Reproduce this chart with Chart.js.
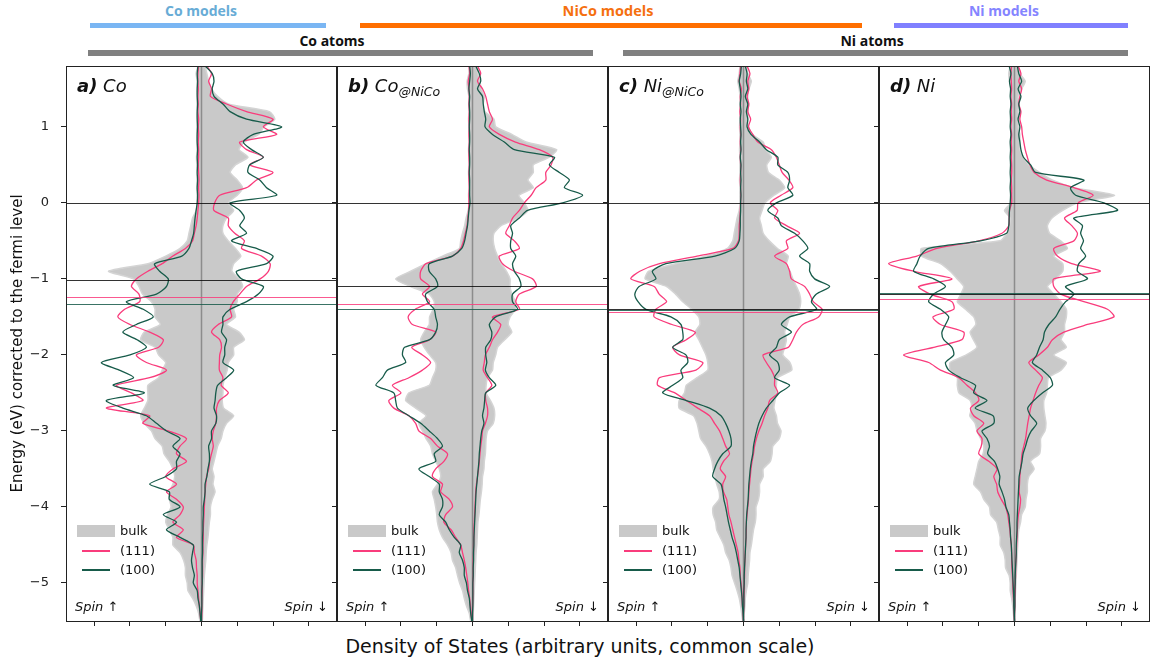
<!DOCTYPE html>
<html>
<head>
<meta charset="utf-8">
<script src="https://cdn.jsdelivr.net/npm/chart.js@4.4.0/dist/chart.umd.min.js"></script>
<style>
  body { margin: 0; width: 1151px; height: 663px; background: #fff; position: relative; overflow: hidden; font-family: 'DejaVu Sans', sans-serif; color: #111; }
  canvas { position: absolute; }
  .hdr { position: absolute; font-family: 'Open Sans', sans-serif; font-weight: 700; font-size: 14px; line-height: 14px; transform: translateX(-50%); white-space: nowrap; }
  .bar { position: absolute; }
  .plabel { position: absolute; font-style: italic; font-size: 18px; line-height: 18px; white-space: nowrap; }
  .plabel sub { font-size: 12.5px; vertical-align: -4px; }
  .lg { position: absolute; font-size: 13px; line-height: 13px; white-space: nowrap; }
  .spin { position: absolute; font-style: italic; font-size: 13px; line-height: 13px; white-space: nowrap; }
  #xlabel { position: absolute; left: 580px; top: 637px; transform: translateX(-50%); font-size: 19px; line-height: 19px; white-space: nowrap; }
</style>
</head>
<body>
<div class="hdr" style="left:201px; top:4px; color:#68acd6;">Co models</div>
<div class="bar" style="left:90px; top:23px; width:236px; height:5px; background:#7ab6f3;"></div>
<div class="hdr" style="left:608px; top:4px; color:#f5700f; font-size:14.5px;">NiCo models</div>
<div class="bar" style="left:360px; top:23px; width:502px; height:5px; background:#ff6f00;"></div>
<div class="hdr" style="left:1004px; top:4px; color:#8585ff;">Ni models</div>
<div class="bar" style="left:894px; top:23px; width:234px; height:5px; background:#8080ff;"></div>
<div class="hdr" style="left:332px; top:34px; color:#111;">Co atoms</div>
<div class="bar" style="left:88px; top:50px; width:505px; height:6px; background:#808080;"></div>
<div class="hdr" style="left:872px; top:34px; color:#111;">Ni atoms</div>
<div class="bar" style="left:623px; top:50px; width:505px; height:6px; background:#808080;"></div>
<div id="xlabel">Density of States (arbitrary units, common scale)</div>

<script>
// energy grid (eV, relative to the fermi level), top to bottom
const energy = [1.8,1.7,1.6,1.5,1.4,1.3,1.2,1.1,1.0,0.9,
  0.8,0.7,0.6,0.5,0.4,0.3,0.2,0.1,0.0,-0.1,
  -0.2,-0.3,-0.4,-0.5,-0.6,-0.7,-0.8,-0.9,-1.0,-1.1,
  -1.2,-1.3,-1.4,-1.5,-1.6,-1.7,-1.8,-1.9,-2.0,-2.1,
  -2.2,-2.3,-2.4,-2.5,-2.6,-2.7,-2.8,-2.9,-3.0,-3.1,
  -3.2,-3.3,-3.4,-3.5,-3.6,-3.7,-3.8,-3.9,-4.0,-4.1,
  -4.2,-4.3,-4.4,-4.5,-4.6,-4.7,-4.8,-4.9,-5.0,-5.1,
  -5.2,-5.3,-5.4,-5.5];

const xTicks = [-3, -2, -1, 0, 1, 2, 3];
const yTicks = [1, 0, -1, -2, -3, -4, -5];
const fermiLevel = 0;

// a) Co
const coBulkUp = [-0.10,-0.15,-0.12,-0.12,-0.12,-0.12,-0.12,-0.12,-0.13,-0.13,
  -0.13,-0.12,-0.14,-0.13,-0.12,-0.12,-0.13,-0.12,-0.12,-0.15,
  -0.25,-0.30,-0.35,-0.40,-0.60,-1.00,-1.50,-2.60,-1.90,-1.75,
  -1.65,-1.40,-1.30,-1.30,-1.15,-1.60,-1.70,-1.30,-1.20,-1.00,
  -1.10,-1.20,-1.50,-1.50,-1.50,-1.60,-1.70,-1.60,-1.40,-1.30,
  -1.10,-1.05,-0.90,-0.80,-0.75,-0.80,-0.90,-0.90,-0.85,-0.95,
  -1.00,-0.90,-0.80,-0.80,-0.60,-0.50,-0.45,-0.45,-0.40,-0.38,
  -0.25,-0.15,-0.08,-0.04];
const coBulkDown = [0.10,0.15,0.20,0.28,0.45,0.75,1.90,2.05,1.75,1.60,
  1.20,1.05,1.30,0.95,0.80,1.00,1.15,1.00,0.75,0.90,
  0.70,0.60,0.60,0.75,0.95,1.10,0.90,0.85,1.05,1.15,
  1.00,1.00,0.90,0.95,0.70,1.05,1.20,0.90,0.90,0.75,
  0.72,0.65,0.60,0.60,0.58,0.62,0.90,0.70,0.60,0.55,
  0.45,0.40,0.35,0.30,0.35,0.32,0.38,0.30,0.25,0.25,
  0.22,0.20,0.18,0.15,0.13,0.12,0.10,0.08,0.07,0.06,
  0.05,0.04,0.03,0.02];
const co111Up = [-0.08,-0.10,-0.10,-0.09,-0.10,-0.09,-0.10,-0.08,-0.09,-0.08,
  -0.09,-0.08,-0.08,-0.09,-0.08,-0.07,-0.08,-0.07,-0.08,-0.10,
  -0.12,-0.15,-0.20,-0.25,-0.45,-0.80,-1.10,-1.50,-1.82,-1.96,
  -1.75,-1.73,-2.15,-2.34,-2.00,-1.45,-1.07,-1.20,-1.82,-1.54,
  -0.98,-1.45,-2.38,-1.96,-1.64,-2.66,-1.45,-1.64,-0.93,-0.42,
  -0.60,-0.70,-0.42,-0.80,-1.00,-0.70,-0.98,-0.70,-0.51,-0.60,
  -0.80,-0.51,-0.70,-0.23,-0.20,-0.15,-0.14,-0.12,-0.12,-0.10,
  -0.08,-0.06,-0.04,-0.02];
const co111Down = [0.15,0.28,0.20,0.28,0.25,0.70,1.26,2.00,1.73,2.10,
  1.07,1.26,1.73,1.35,2.00,1.54,1.26,0.51,0.37,0.35,
  0.75,0.75,0.93,1.20,1.12,1.68,1.92,1.87,1.64,1.26,
  1.07,0.89,0.80,0.84,0.47,0.28,0.51,0.56,0.51,0.50,
  0.50,0.60,0.55,0.75,0.50,0.42,0.42,0.40,0.33,0.30,
  0.33,0.28,0.23,0.20,0.14,0.12,0.10,0.09,0.08,0.07,
  0.06,0.05,0.05,0.04,0.04,0.03,0.03,0.03,0.02,0.02,
  0.01,0.01,0.01,0.00];
const co100Up = [-0.10,-0.12,-0.11,-0.12,-0.12,-0.11,-0.12,-0.12,-0.11,-0.12,
  -0.12,-0.11,-0.12,-0.11,-0.12,-0.11,-0.12,-0.11,-0.12,-0.15,
  -0.18,-0.20,-0.22,-0.28,-0.35,-0.55,-1.31,-1.17,-0.93,-0.98,
  -1.26,-2.10,-1.63,-1.35,-1.82,-2.20,-1.80,-1.54,-2.00,-2.80,
  -2.30,-1.90,-2.47,-1.60,-2.66,-2.20,-1.54,-1.26,-0.98,-0.60,
  -0.80,-0.60,-0.70,-0.70,-1.00,-1.45,-0.90,-0.90,-0.60,-1.07,
  -0.70,-0.98,-0.60,-0.23,-0.25,-0.28,-0.25,-0.20,-0.23,-0.12,
  -0.10,-0.06,-0.04,-0.02];
const co100Down = [0.10,0.30,0.35,0.30,0.35,0.60,0.80,1.26,2.24,1.45,
  1.17,1.40,1.73,1.35,1.30,1.63,1.82,2.10,0.80,1.07,
  1.20,1.07,1.26,0.84,1.54,2.00,1.82,0.98,1.12,1.73,
  1.59,1.26,0.80,0.60,0.60,0.56,0.70,0.65,0.65,0.60,
  0.90,0.70,0.45,0.40,0.38,0.35,0.42,0.40,0.28,0.28,
  0.20,0.22,0.22,0.18,0.15,0.10,0.10,0.08,0.05,0.05,
  0.04,0.04,0.03,0.03,0.03,0.02,0.02,0.02,0.02,0.01,
  0.01,0.01,0.00,0.00];

// b) Co@NiCo
const coNiCoBulkUp = [-0.08,-0.10,-0.15,-0.14,-0.10,-0.10,-0.10,-0.11,-0.10,-0.10,
  -0.10,-0.11,-0.10,-0.10,-0.11,-0.10,-0.10,-0.11,-0.10,-0.12,
  -0.18,-0.22,-0.28,-0.33,-0.37,-0.84,-1.30,-1.73,-2.15,-1.73,
  -1.21,-1.07,-1.10,-1.20,-1.21,-1.35,-1.45,-1.35,-1.20,-1.03,
  -1.03,-1.12,-1.21,-1.78,-1.87,-1.59,-1.30,-1.50,-1.40,-1.30,
  -1.17,-1.12,-1.03,-0.93,-0.89,-0.98,-1.12,-1.07,-1.03,-1.00,
  -0.98,-0.93,-0.84,-0.70,-0.60,-0.56,-0.47,-0.42,-0.36,-0.28,
  -0.23,-0.17,-0.09,-0.05];
const coNiCoBulkDown = [0.10,0.15,0.20,0.25,0.33,0.30,0.35,0.60,0.65,1.10,
  1.50,2.35,2.15,1.70,1.70,1.55,1.70,1.30,1.45,1.55,
  1.30,0.80,0.60,0.58,0.62,0.70,0.80,0.95,1.05,1.05,
  1.10,1.20,1.20,1.05,1.00,1.10,0.90,0.70,0.65,0.58,
  0.56,0.42,0.38,0.38,0.50,0.60,0.62,0.58,0.42,0.38,
  0.37,0.36,0.33,0.32,0.28,0.27,0.25,0.22,0.20,0.18,
  0.15,0.14,0.13,0.12,0.10,0.09,0.08,0.07,0.06,0.05,
  0.04,0.03,0.02,0.01];
const coNiCo111Up = [-0.10,-0.08,-0.12,-0.10,-0.09,-0.10,-0.09,-0.10,-0.09,-0.10,
  -0.09,-0.10,-0.10,-0.09,-0.10,-0.10,-0.09,-0.10,-0.10,-0.11,
  -0.13,-0.15,-0.20,-0.25,-0.33,-0.56,-1.30,-1.45,-1.45,-1.20,
  -1.40,-1.20,-1.60,-1.80,-1.68,-1.03,-1.20,-1.70,-1.40,-1.17,
  -1.40,-1.78,-2.24,-2.00,-2.34,-2.20,-1.78,-1.59,-1.50,-1.17,
  -0.98,-0.70,-0.80,-1.03,-1.12,-0.84,-0.89,-0.65,-0.56,-0.75,
  -0.80,-0.60,-0.47,-0.33,-0.28,-0.23,-0.19,-0.16,-0.13,-0.11,
  -0.08,-0.06,-0.04,-0.02];
const coNiCo111Down = [0.14,0.23,0.14,0.28,0.37,0.42,0.47,0.56,0.47,0.75,
  1.20,1.87,2.24,2.20,2.05,2.05,1.78,1.64,1.45,1.31,
  1.12,1.03,0.93,1.17,1.31,0.75,0.84,1.17,1.68,1.78,
  1.31,1.21,1.31,0.56,0.79,0.70,0.56,0.47,0.36,0.33,
  0.30,0.42,0.54,0.37,0.37,0.42,0.42,0.36,0.28,0.26,
  0.23,0.21,0.19,0.17,0.14,0.11,0.09,0.08,0.07,0.06,
  0.05,0.04,0.04,0.03,0.03,0.02,0.02,0.02,0.01,0.01,
  0.01,0.00,0.00,0.00];
const coNiCo100Up = [-0.08,-0.06,-0.08,-0.10,-0.08,-0.09,-0.08,-0.08,-0.09,-0.08,
  -0.08,-0.09,-0.08,-0.08,-0.09,-0.08,-0.08,-0.08,-0.07,-0.10,
  -0.12,-0.14,-0.18,-0.22,-0.30,-0.56,-1.21,-1.21,-1.03,-0.98,
  -1.31,-1.26,-1.07,-1.03,-0.98,-1.03,-1.20,-1.90,-1.96,-1.87,
  -2.38,-2.52,-2.70,-2.20,-2.15,-2.10,-1.78,-1.45,-1.21,-0.98,
  -0.84,-1.07,-1.03,-1.50,-1.21,-0.93,-0.93,-0.84,-0.84,-0.93,
  -0.75,-0.65,-0.51,-0.33,-0.37,-0.28,-0.23,-0.23,-0.17,-0.14,
  -0.09,-0.07,-0.05,-0.02];
const coNiCo100Down = [0.09,0.19,0.23,0.14,0.28,0.30,0.33,0.37,0.35,0.56,
  0.89,1.17,2.29,2.15,2.43,2.71,2.57,3.08,2.52,1.54,
  1.31,1.07,1.12,1.07,1.07,1.21,1.12,1.17,1.31,1.35,
  1.12,1.12,1.26,0.65,0.47,0.54,0.51,0.37,0.37,0.40,
  0.36,0.47,0.65,0.37,0.34,0.32,0.28,0.32,0.26,0.23,
  0.21,0.19,0.18,0.16,0.14,0.12,0.10,0.09,0.08,0.07,
  0.06,0.05,0.04,0.04,0.03,0.03,0.02,0.02,0.01,0.01,
  0.01,0.01,0.00,0.00];

// c) Ni@NiCo
const niNiCoBulkUp = [-0.10,-0.12,-0.16,-0.12,-0.10,-0.10,-0.10,-0.10,-0.11,-0.10,
  -0.10,-0.11,-0.10,-0.10,-0.10,-0.11,-0.10,-0.10,-0.10,-0.12,
  -0.18,-0.22,-0.26,-0.30,-0.45,-1.05,-1.90,-2.65,-2.75,-2.15,
  -1.90,-1.70,-1.45,-1.25,-1.22,-1.35,-1.25,-1.15,-1.05,-1.00,
  -1.00,-1.30,-1.60,-1.65,-1.80,-1.80,-1.40,-1.30,-1.25,-1.20,
  -1.05,-0.95,-0.88,-0.85,-0.80,-0.75,-0.68,-0.68,-0.85,-0.85,
  -0.78,-0.75,-0.65,-0.55,-0.50,-0.40,-0.35,-0.32,-0.25,-0.18,
  -0.12,-0.08,-0.05,-0.02];
const niNiCoBulkDown = [0.08,0.12,0.22,0.15,0.12,0.12,0.13,0.12,0.14,0.25,
  0.55,0.62,0.78,0.65,0.70,1.00,1.15,0.85,0.60,0.52,
  0.45,0.50,0.55,0.72,0.95,1.25,1.20,1.30,1.38,1.48,
  1.57,1.60,1.55,1.30,1.22,1.15,1.20,1.15,1.10,1.30,
  1.35,0.95,0.92,0.92,0.88,0.85,0.92,0.95,1.05,1.00,
  0.82,0.80,0.75,0.55,0.55,0.45,0.45,0.42,0.35,0.35,
  0.33,0.28,0.25,0.22,0.18,0.17,0.15,0.13,0.12,0.08,
  0.05,0.04,0.02,0.01];
const niNiCo111Up = [-0.08,-0.10,-0.12,-0.06,-0.09,-0.08,-0.10,-0.08,-0.09,-0.08,
  -0.09,-0.08,-0.09,-0.08,-0.08,-0.09,-0.08,-0.08,-0.08,-0.09,
  -0.10,-0.12,-0.12,-0.14,-0.30,-1.30,-2.35,-2.90,-3.15,-2.50,
  -2.36,-2.15,-2.45,-2.50,-2.00,-1.35,-1.60,-1.98,-1.79,-1.14,
  -1.33,-2.35,-2.40,-1.92,-1.60,-1.28,-0.95,-0.81,-0.67,-0.58,
  -0.50,-0.39,-0.56,-0.65,-0.50,-0.58,-0.56,-0.47,-0.44,-0.41,
  -0.35,-0.30,-0.25,-0.20,-0.15,-0.13,-0.10,-0.09,-0.07,-0.05,
  -0.04,-0.03,-0.01,0.00];
const niNiCo111Down = [0.10,0.18,0.12,0.15,0.10,0.15,0.12,0.20,0.14,0.26,
  0.40,0.78,0.92,1.00,1.08,1.27,1.38,1.05,0.75,0.96,
  0.87,1.20,1.57,1.20,1.24,0.87,1.20,1.29,1.34,1.71,
  1.85,1.95,2.20,2.10,1.66,1.48,1.38,1.25,0.55,0.64,
  0.78,0.87,0.87,0.96,0.73,0.68,0.59,0.52,0.43,0.36,
  0.31,0.28,0.24,0.21,0.19,0.17,0.15,0.14,0.12,0.10,
  0.08,0.08,0.07,0.06,0.05,0.04,0.03,0.03,0.02,0.02,
  0.01,0.01,0.00,0.00];
const niNiCo100Up = [-0.06,-0.08,-0.12,-0.09,-0.07,-0.09,-0.07,-0.09,-0.08,-0.07,
  -0.08,-0.07,-0.09,-0.07,-0.08,-0.07,-0.08,-0.07,-0.08,-0.08,
  -0.09,-0.09,-0.10,-0.12,-0.25,-0.80,-2.17,-2.55,-2.45,-2.92,
  -3.04,-2.95,-2.73,-2.03,-1.75,-1.70,-1.70,-1.98,-1.61,-1.56,
  -1.75,-1.70,-1.98,-2.26,-1.60,-0.95,-0.63,-0.50,-0.41,-0.35,
  -0.35,-0.58,-0.72,-0.81,-0.86,-0.63,-0.58,-0.55,-0.50,-0.46,
  -0.42,-0.37,-0.32,-0.25,-0.20,-0.16,-0.12,-0.10,-0.08,-0.06,
  -0.04,-0.03,-0.01,0.00];
const niNiCo100Down = [0.05,0.10,0.08,0.12,0.05,0.12,0.08,0.12,0.10,0.21,
  0.45,0.64,0.96,0.96,1.24,1.29,1.24,1.38,0.92,0.68,
  0.96,1.06,1.43,1.66,1.80,1.57,1.85,1.85,1.99,2.41,
  2.04,1.90,2.04,1.29,1.06,1.34,1.00,0.92,0.73,0.96,
  1.00,0.87,1.29,1.00,0.82,0.64,0.52,0.43,0.37,0.32,
  0.28,0.26,0.22,0.19,0.17,0.15,0.14,0.13,0.11,0.09,
  0.08,0.07,0.07,0.06,0.05,0.04,0.03,0.02,0.02,0.01,
  0.01,0.01,0.00,0.00];

// d) Ni
const niBulkUp = [-0.12,-0.16,-0.14,-0.10,-0.10,-0.10,-0.10,-0.11,-0.10,-0.10,
  -0.11,-0.10,-0.10,-0.11,-0.10,-0.10,-0.12,-0.10,-0.10,-0.28,
  -0.12,-0.14,-0.22,-0.40,-2.60,-2.60,-2.07,-1.80,-1.60,-1.42,
  -1.50,-1.60,-1.37,-1.14,-1.08,-1.24,-1.15,-1.05,-1.35,-1.80,
  -1.80,-1.60,-1.60,-1.55,-1.24,-1.20,-1.25,-1.10,-1.05,-0.95,
  -0.86,-0.88,-1.00,-1.05,-1.10,-1.14,-0.95,-0.86,-0.70,-0.67,
  -0.50,-0.45,-0.40,-0.40,-0.30,-0.26,-0.25,-0.15,-0.12,-0.12,
  -0.08,-0.05,-0.03,-0.01];
const niBulkDown = [0.10,0.15,0.30,0.20,0.10,0.12,0.10,0.12,0.10,0.15,
  0.15,0.15,0.25,0.40,0.70,1.05,1.66,2.80,1.76,1.35,
  1.05,0.92,0.98,1.29,1.48,1.10,1.35,1.35,1.15,0.92,
  1.10,1.30,1.45,1.45,1.40,1.40,1.30,1.45,1.10,1.45,
  1.30,0.95,0.92,0.90,0.82,0.82,0.85,0.88,0.85,0.73,
  0.73,0.70,0.45,0.55,0.40,0.36,0.36,0.32,0.30,0.20,
  0.17,0.12,0.10,0.09,0.08,0.07,0.06,0.05,0.04,0.03,
  0.02,0.02,0.01,0.00];
const ni111Up = [-0.08,-0.10,-0.09,-0.08,-0.10,-0.08,-0.09,-0.08,-0.10,-0.08,
  -0.09,-0.08,-0.09,-0.08,-0.08,-0.09,-0.08,-0.08,-0.08,-0.14,
  -0.15,-0.16,-0.35,-1.00,-2.17,-2.73,-3.52,-2.82,-1.75,-2.68,
  -2.36,-1.75,-1.70,-2.28,-2.07,-1.42,-1.47,-2.26,-3.10,-2.40,
  -2.07,-1.56,-1.33,-1.09,-1.00,-1.23,-1.14,-0.86,-1.05,-0.91,
  -0.93,-1.00,-0.72,-0.49,-0.58,-0.50,-0.47,-0.37,-0.25,-0.19,
  -0.16,-0.13,-0.11,-0.09,-0.08,-0.08,-0.07,-0.06,-0.05,-0.04,
  -0.03,-0.02,-0.01,0.00];
const ni111Down = [0.10,0.18,0.12,0.20,0.15,0.12,0.18,0.15,0.20,0.22,
  0.26,0.30,0.36,0.43,0.55,0.90,1.66,2.20,1.78,1.75,
  1.40,1.60,1.76,1.66,1.10,1.20,1.60,2.40,1.10,1.10,
  1.29,1.94,2.60,2.78,2.04,1.38,1.06,0.92,0.68,0.40,
  0.59,0.78,0.68,0.59,0.52,0.45,0.41,0.37,0.34,0.31,
  0.26,0.21,0.19,0.17,0.15,0.14,0.13,0.17,0.15,0.11,
  0.09,0.08,0.07,0.06,0.05,0.04,0.03,0.03,0.02,0.02,
  0.01,0.01,0.00,0.00];
const ni100Up = [-0.15,-0.10,-0.14,-0.11,-0.12,-0.10,-0.12,-0.11,-0.12,-0.10,
  -0.12,-0.11,-0.12,-0.11,-0.12,-0.11,-0.12,-0.11,-0.12,-0.14,
  -0.15,-0.16,-0.22,-0.95,-2.40,-2.64,-2.73,-2.82,-2.26,-1.93,
  -2.26,-2.40,-2.07,-1.84,-1.93,-2.03,-1.98,-1.75,-1.70,-1.93,
  -1.84,-1.51,-1.09,-1.14,-0.77,-1.10,-0.60,-0.58,-0.91,-0.77,
  -0.70,-0.75,-0.56,-0.47,-0.41,-0.43,-0.35,-0.28,-0.24,-0.16,
  -0.14,-0.12,-0.11,-0.09,-0.08,-0.07,-0.06,-0.05,-0.04,-0.03,
  -0.02,-0.02,-0.01,0.00];
const ni100Down = [0.08,0.12,0.20,0.10,0.18,0.12,0.15,0.10,0.15,0.12,
  0.15,0.18,0.25,0.45,0.59,1.94,1.57,1.71,2.50,2.88,
  1.66,1.90,1.85,1.93,1.85,1.99,1.80,1.76,2.04,1.43,
  1.66,1.43,1.27,1.15,0.96,0.84,0.80,0.70,0.62,0.50,
  0.78,1.00,1.06,0.78,0.54,0.37,0.45,0.62,0.47,0.37,
  0.31,0.24,0.21,0.17,0.13,0.12,0.11,0.10,0.09,0.08,
  0.07,0.07,0.06,0.05,0.05,0.04,0.03,0.02,0.02,0.01,
  0.01,0.01,0.00,0.00];

// d-band centres per panel (eV)
const dbandBulk = [-1.02, -1.09, -1.40, -1.205];
const dband111 = [-1.235, -1.335, -1.44, -1.27];
const dband100 = [-1.325, -1.39, -1.415, -1.185];

const PINK = '#f93c7c';
const GREEN = '#175b4a';

const panels = [
  { left: 66,  tag: 'a)', name: 'Co', sub: '',      up: coBulkUp,     down: coBulkDown,     u111: co111Up,     d111: co111Down,     u100: co100Up,     d100: co100Down },
  { left: 337, tag: 'b)', name: 'Co', sub: '@NiCo', up: coNiCoBulkUp, down: coNiCoBulkDown, u111: coNiCo111Up, d111: coNiCo111Down, u100: coNiCo100Up, d100: coNiCo100Down },
  { left: 608, tag: 'c)', name: 'Ni', sub: '@NiCo', up: niNiCoBulkUp, down: niNiCoBulkDown, u111: niNiCo111Up, d111: niNiCo111Down, u100: niNiCo100Up, d100: niNiCo100Down },
  { left: 879, tag: 'd)', name: 'Ni', sub: '',      up: niBulkUp,     down: niBulkDown,     u111: ni111Up,     d111: ni111Down,     u100: ni100Up,     d100: ni100Down }
];

const PANEL_W = 271;

function pts(values) {
  return energy.map((e, k) => ({ x: values[k], y: e }));
}

// vertical zero line over the bulk fill, reference lines and frame on top
const panelLines = {
  id: 'panelLines',
  afterDatasetDraw(chart, args) {
    if (args.index !== 0) return;
    const { ctx, chartArea: a, scales: { x } } = chart;
    const px = x.getPixelForValue(0);
    ctx.save();
    ctx.strokeStyle = '#8c8c8c';
    ctx.lineWidth = 1.5;
    ctx.beginPath();
    ctx.moveTo(px, a.top);
    ctx.lineTo(px, a.bottom);
    ctx.stroke();
    ctx.restore();
  },
  afterDatasetsDraw(chart, args, opts) {
    const { ctx, chartArea: a, scales: { y } } = chart;
    ctx.save();
    const hline = (v, color, w) => {
      const py = Math.round(y.getPixelForValue(v)) + 0.5;
      ctx.strokeStyle = color;
      ctx.lineWidth = w;
      ctx.beginPath();
      ctx.moveTo(a.left, py);
      ctx.lineTo(a.right, py);
      ctx.stroke();
    };
    hline(fermiLevel, 'rgba(0,0,0,0.8)', 1);
    hline(opts.bulk, 'rgba(0,0,0,0.8)', 1);
    hline(opts.s111, 'rgba(249,60,124,0.85)', 1.2);
    hline(opts.s100, 'rgba(23,91,74,0.85)', 1.2);
    ctx.strokeStyle = '#222';
    ctx.lineWidth = 1;
    ctx.strokeRect(a.left + 0.5, a.top + 0.5, a.right - a.left - 1, a.bottom - a.top);
    ctx.restore();
  }
};

panels.forEach((p, i) => {
  const first = i === 0;
  const axisW = first ? 66 : 8;
  const canvas = document.createElement('canvas');
  canvas.width = axisW + PANEL_W + 1;
  canvas.height = 603;
  canvas.style.left = (p.left - axisW) + 'px';
  canvas.style.top = '60px';
  document.body.appendChild(canvas);

  const bulkShape = pts(p.up).concat(pts(p.down).reverse());
  const lineStyle = { pointRadius: 0, pointHoverRadius: 0, fill: false, tension: 0.25, borderWidth: 1.3 };

  new Chart(canvas, {
    type: 'line',
    data: {
      datasets: [
        { label: 'bulk', data: bulkShape, fill: 'shape', backgroundColor: '#c9c9c9', borderColor: '#d4d4d4', borderWidth: 1.5, pointRadius: 0, tension: 0.2, order: 3 },
        Object.assign({ label: '(111)', data: pts(p.u111), borderColor: PINK, order: 2 }, lineStyle),
        Object.assign({ label: '(111)', data: pts(p.d111), borderColor: PINK, order: 2 }, lineStyle),
        Object.assign({ label: '(100)', data: pts(p.u100), borderColor: GREEN, order: 1 }, lineStyle),
        Object.assign({ label: '(100)', data: pts(p.d100), borderColor: GREEN, order: 1 }, lineStyle)
      ]
    },
    options: {
      responsive: false,
      animation: false,
      events: [],
      layout: { padding: { top: 6, right: 1, left: 0, bottom: 0 } },
      plugins: {
        legend: { display: false },
        tooltip: { enabled: false },
        panelLines: { bulk: dbandBulk[i], s111: dband111[i], s100: dband100[i] }
      },
      scales: {
        x: {
          type: 'linear', min: -3.79, max: 3.79,
          afterBuildTicks: s => { s.ticks = xTicks.map(v => ({ value: v })); },
          afterFit: s => { s.height = 42; s.paddingLeft = 0; s.paddingRight = 0; },
          grid: { drawOnChartArea: false, drawTicks: true, tickLength: 5, color: '#222' },
          border: { display: false },
          ticks: { display: false }
        },
        y: {
          type: 'linear', min: -5.5, max: 1.8,
          afterBuildTicks: s => { s.ticks = yTicks.map(v => ({ value: v })); },
          afterFit: s => { s.width = axisW; s.paddingTop = 0; s.paddingBottom = 0; },
          grid: { drawOnChartArea: false, drawTicks: true, tickLength: 5, color: '#222' },
          border: { display: false },
          ticks: {
            display: first, padding: 12, color: '#222',
            font: { family: 'DejaVu Sans', size: 13 },
            callback: v => (v < 0 ? '\u2212' + Math.abs(v) : String(v))
          },
          title: {
            display: first, text: 'Energy (eV) corrected to the fermi level',
            color: '#111', font: { family: 'DejaVu Sans', size: 15 },
            padding: { top: 9, bottom: 0 }
          }
        }
      }
    },
    plugins: [panelLines]
  });

  // panel label, legend and spin captions as html text
  const L = p.left;
  const lab = document.createElement('div');
  lab.className = 'plabel';
  lab.style.left = (L + 11) + 'px';
  lab.style.top = '77px';
  lab.innerHTML = '<b>' + p.tag + '</b> ' + p.name + (p.sub ? '<sub>' + p.sub + '</sub>' : '');
  document.body.appendChild(lab);

  const legend = [
    { top: 525, html: '<span style="position:absolute;left:0;top:0;width:38px;height:12px;background:#c9c9c9"></span><span style="position:absolute;left:43px;top:-1px">bulk</span>' },
    { top: 544, html: '<span style="position:absolute;left:5px;top:6px;width:28px;height:2px;background:' + PINK + '"></span><span style="position:absolute;left:43px;top:0">(111)</span>' },
    { top: 563, html: '<span style="position:absolute;left:5px;top:6px;width:28px;height:2px;background:' + GREEN + '"></span><span style="position:absolute;left:43px;top:0">(100)</span>' }
  ];
  legend.forEach(r => {
    const d = document.createElement('div');
    d.className = 'lg';
    d.style.left = (L + 11) + 'px';
    d.style.top = r.top + 'px';
    d.innerHTML = r.html;
    document.body.appendChild(d);
  });

  const su = document.createElement('div');
  su.className = 'spin';
  su.style.left = (L + 9) + 'px';
  su.style.top = '600px';
  su.textContent = 'Spin \u2191';
  document.body.appendChild(su);

  const sd = document.createElement('div');
  sd.className = 'spin';
  sd.style.left = (L + PANEL_W - 9) + 'px';
  sd.style.top = '600px';
  sd.style.transform = 'translateX(-100%)';
  sd.textContent = 'Spin \u2193';
  document.body.appendChild(sd);
});
</script>
</body>
</html>
